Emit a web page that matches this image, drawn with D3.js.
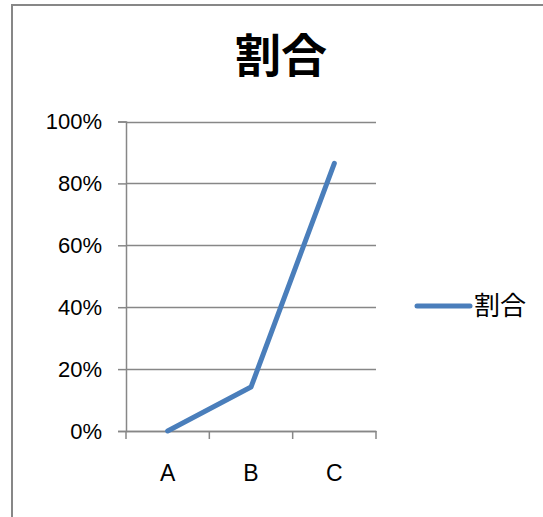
<!DOCTYPE html>
<html><head><meta charset="utf-8">
<script src="https://cdn.jsdelivr.net/npm/d3@7"></script>
<style>body{margin:0;background:#fff;}</style>
</head><body>
<svg id="chart" width="543" height="517"></svg>
<script>
const categories = ["A", "B", "C"];
const values = [0, 0.142, 0.865];
const seriesName = "割合";
const titleText = "割合";
const yTicks = [0, 0.2, 0.4, 0.6, 0.8, 1.0];

(function(){
const svg = d3.select("#chart");
const latin = "'Liberation Sans', Arial, sans-serif";
const cjk = "'Noto Sans CJK JP', 'Noto Sans CJK SC', sans-serif";

// chart border (extends beyond the window)
svg.append("rect").attr("x", 12).attr("y", 5).attr("width", 560).attr("height", 540)
  .attr("fill", "none").attr("stroke", "#878787").attr("stroke-width", 2);

const pLeft = 126, pRight = 376, pTop = 121.5, pBottom = 431;
const x = d3.scaleBand().domain(categories).range([pLeft, pRight]).paddingInner(0).paddingOuter(0);
const y = d3.scaleLinear().domain([0, 1]).range([pBottom, pTop]);

// gridlines
svg.append("g").selectAll("line").data(yTicks).join("line")
  .attr("x1", pLeft).attr("x2", pRight)
  .attr("y1", d => Math.round(y(d)) + 0.5).attr("y2", d => Math.round(y(d)) + 0.5)
  .attr("stroke", "#878787").attr("stroke-width", 1.5);

// y axis
const yAxis = svg.append("g").attr("transform", `translate(${pLeft},0)`)
  .call(d3.axisLeft(y).tickValues(yTicks).tickFormat(d3.format(".0%")).tickSize(8).tickPadding(16));
yAxis.select(".domain").attr("stroke", "#878787").attr("stroke-width", 1.5);
yAxis.selectAll(".tick line").attr("stroke", "#878787").attr("stroke-width", 1.5);
yAxis.selectAll(".tick text").attr("font-family", latin).attr("font-size", 22).attr("fill", "#000");

// x axis
const xAxis = svg.append("g").attr("transform", `translate(0,${pBottom})`)
  .call(d3.axisBottom(x).tickSize(0).tickPadding(34));
xAxis.select(".domain").attr("stroke", "#878787").attr("stroke-width", 1.5);
xAxis.selectAll(".tick text").attr("font-family", latin).attr("font-size", 23).attr("fill", "#000");
// category boundary tick marks
const bounds = [pLeft].concat(categories.map(c => x(c) + x.bandwidth()));
svg.append("g").selectAll("line").data(bounds).join("line")
  .attr("x1", d => d).attr("x2", d => d).attr("y1", pBottom).attr("y2", pBottom + 8)
  .attr("stroke", "#878787").attr("stroke-width", 1.5);

// line
const line = d3.line().x((d, i) => x(categories[i]) + x.bandwidth() / 2).y(d => y(d));
svg.append("path").datum(values).attr("d", line)
  .attr("fill", "none").attr("stroke", "#4a7ebb").attr("stroke-width", 5)
  .attr("stroke-linecap", "round").attr("stroke-linejoin", "round");

// title
svg.append("text").attr("x", 281).attr("y", 72).attr("text-anchor", "middle")
  .attr("font-family", cjk).attr("font-weight", "bold").attr("font-size", 46).attr("fill", "#000")
  .text(titleText);

// legend
svg.append("line").attr("x1", 417).attr("x2", 470).attr("y1", 306).attr("y2", 306)
  .attr("stroke", "#4a7ebb").attr("stroke-width", 5).attr("stroke-linecap", "round");
svg.append("text").attr("x", 474).attr("y", 315)
  .attr("font-family", cjk).attr("font-size", 26).attr("fill", "#000").text(seriesName);
})();
</script>
</body></html>
